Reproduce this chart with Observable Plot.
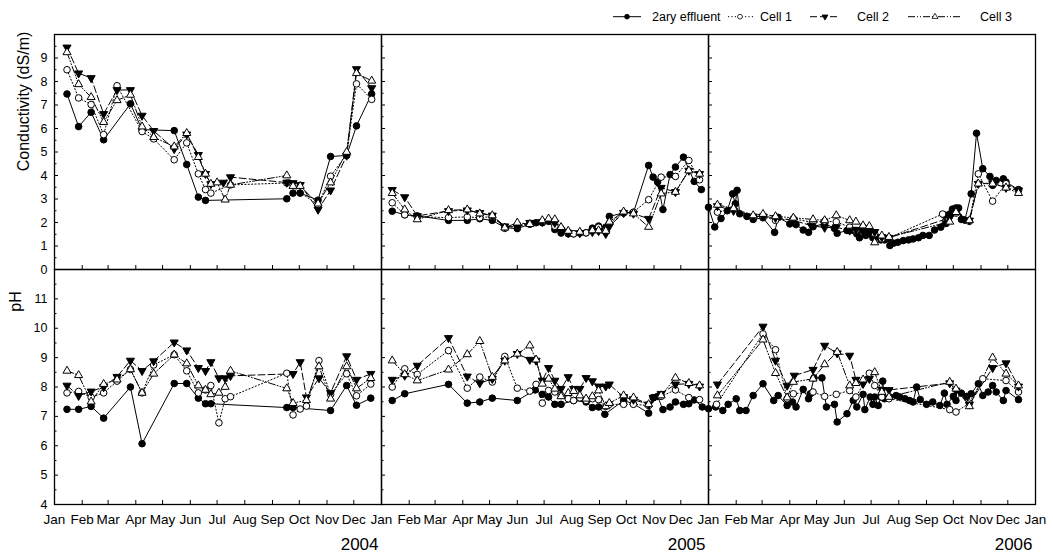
<!DOCTYPE html>
<html><head><meta charset="utf-8">
<script src="https://cdn.jsdelivr.net/npm/d3@7"></script>
<script src="https://cdn.jsdelivr.net/npm/@observablehq/plot@0.6"></script>
<style>
body{margin:0;background:#fff;}
#chart{position:relative;width:1053px;height:554px;font-family:"Liberation Sans",Arial,sans-serif;}
#chart svg{position:absolute;left:0;}
</style></head><body><div id="chart"></div>
<script>
// ---- data: [day of year, value] ----
const years = [2004, 2005, 2006];
const seriesNames = ["2ary effluent", "Cell 1", "Cell 2", "Cell 3"];
const monthLabels = ["Jan","Feb","Mar","Apr","May","Jun","Jul","Aug","Sep","Oct","Nov","Dec"];
const condTicks = [0,1,2,3,4,5,6,7,8,9];
const phTicks = [4,5,6,7,8,9,10,11];

// Conductivity (dS/m)
const cond2004Effluent = [[14,7.47],[27,6.08],[41,6.69],[55,5.52],[85,7.05],[98,5.95],[134,5.91],[148,4.47],[161,3.08],[169,2.94],[260,3.01],[267,3.25],[275,3.25],[295,2.95],[309,4.81],[327,4.85],[338,6.11],[355,7.47]];
const cond2004Cell1 = [[14,8.5],[27,7.3],[41,7.02],[55,5.74],[70,7.82],[98,5.87],[111,5.56],[134,4.67],[148,5.39],[161,4.07],[169,3.4],[175,3.25],[197,3.6],[260,3.68],[295,2.75],[309,3.97],[327,4.9],[338,7.9],[355,7.24]];
const cond2004Cell2 = [[14,9.45],[27,8.35],[41,8.15],[55,6.62],[70,7.64],[85,7.64],[98,6.55],[111,5.9],[134,5.13],[148,5.75],[161,4.88],[169,4.07],[175,3.64],[189,3.7],[197,3.93],[260,3.7],[267,3.68],[275,3.6],[295,2.55],[309,3.37],[327,4.85],[338,8.53],[355,7.72]];
const cond2004Cell3 = [[14,9.24],[27,7.88],[41,7.33],[55,6.27],[70,7.2],[85,7.43],[98,6.08],[111,5.63],[134,5.23],[148,5.8],[161,4.78],[169,4.07],[175,3.64],[182,3.7],[191,2.97],[197,3.6],[260,4.0],[267,3.55],[275,3.55],[295,2.8],[309,3.7],[327,5.0],[338,8.35],[355,8.03]];

const cond2005Effluent = [[12,2.48],[26,2.33],[40,2.28],[75,2.09],[96,2.09],[110,2.16],[124,2.09],[138,1.78],[152,1.74],[166,1.93],[173,1.99],[180,1.99],[187,2.05],[194,1.7],[201,1.55],[209,1.52],[215,1.52],[222,1.55],[229,1.56],[236,1.76],[243,1.85],[251,1.8],[255,2.26],[271,2.41],[282,2.42],[299,4.43],[304,3.93],[309,3.72],[315,2.55],[323,4.04],[329,4.36],[338,4.78],[350,3.75],[358,3.4]];
const cond2005Cell1 = [[12,2.84],[26,2.33],[40,2.24],[75,2.21],[96,2.24],[110,2.2],[124,2.26],[138,1.75],[152,1.87],[166,1.93],[180,2.03],[194,1.84],[201,1.74],[209,1.6],[215,1.52],[229,1.56],[243,1.8],[251,1.66],[255,1.97],[271,2.41],[282,2.44],[299,2.97],[313,3.93],[329,3.96],[344,4.64],[356,3.82]];
const cond2005Cell2 = [[12,3.39],[26,3.08],[40,2.28],[75,2.49],[96,2.52],[110,2.41],[124,2.3],[138,1.84],[152,1.8],[166,1.99],[180,2.03],[194,1.99],[201,1.67],[209,1.55],[222,1.55],[236,1.6],[243,1.64],[251,1.52],[255,1.84],[271,2.41],[282,2.38],[299,2.16],[313,3.48],[329,3.3],[344,4.21],[356,4.07]];
const cond2005Cell3 = [[12,3.25],[26,2.55],[40,2.13],[75,2.52],[96,2.55],[110,2.38],[124,2.3],[138,1.78],[152,1.99],[166,1.93],[180,2.09],[187,2.16],[194,2.13],[201,1.8],[209,1.64],[222,1.6],[236,1.66],[243,1.66],[251,1.64],[255,2.03],[271,2.46],[282,2.38],[299,1.81],[313,3.23],[329,3.3],[344,4.21],[356,4.07]];

const cond2006Effluent = [[0,2.65],[7,1.81],[14,2.17],[21,2.5],[27,3.22],[30,2.8],[32,3.37],[35,2.37],[43,2.26],[50,2.13],[61,2.2],[74,1.58],[78,2.22],[91,1.94],[98,1.91],[106,1.68],[112,1.58],[117,1.82],[130,1.96],[141,1.75],[144,1.54],[155,1.66],[162,1.66],[166,1.52],[169,1.35],[173,1.66],[176,1.45],[181,1.52],[184,1.35],[187,1.4],[193,1.26],[197,1.26],[203,1.02],[207,1.12],[212,1.16],[218,1.23],[224,1.26],[229,1.3],[235,1.35],[240,1.45],[247,1.45],[253,1.68],[260,1.8],[264,2.32],[266,1.96],[270,2.36],[273,2.57],[277,2.62],[280,2.62],[283,2.13],[287,2.1],[294,3.22],[300,5.8],[307,4.29],[315,3.96],[318,3.58],[322,3.79],[330,3.86],[333,3.72],[347,3.4]];
const cond2006Cell1 = [[10,2.44],[28,2.58],[50,2.24],[61,2.26],[75,2.09],[95,2.16],[117,2.0],[130,2.06],[143,2.03],[158,1.8],[165,1.66],[173,1.8],[180,1.66],[186,1.52],[194,1.3],[202,1.35],[262,2.36],[277,2.4],[292,2.05],[302,4.07],[318,2.91],[333,3.65],[347,3.37]];
const cond2006Cell2 = [[10,2.7],[28,2.5],[50,2.26],[61,2.26],[75,2.2],[95,2.09],[115,1.87],[130,1.78],[143,1.8],[158,1.66],[165,1.69],[173,1.66],[180,1.6],[186,1.6],[194,1.38],[202,1.35],[270,2.2],[277,2.5],[292,2.09],[302,3.65],[318,3.68],[333,3.48],[347,3.37]];
const cond2006Cell3 = [[10,2.75],[28,2.6],[50,2.3],[61,2.36],[75,2.26],[95,2.2],[117,2.13],[130,2.09],[143,2.3],[158,2.09],[165,2.03],[173,1.87],[180,1.84],[186,1.15],[194,1.44],[202,1.38],[270,2.03],[277,2.44],[292,2.09],[302,3.65],[318,3.65],[333,3.48],[347,3.25]];

// pH
const ph2004Effluent = [[14,7.24],[27,7.24],[41,7.34],[55,6.94],[85,8.0],[98,6.07],[134,8.12],[148,8.12],[161,7.62],[169,7.43],[175,7.43],[260,7.3],[267,7.3],[309,7.2],[327,8.05],[338,7.38],[354,7.62]];
const ph2004Cell1 = [[14,7.8],[27,7.85],[41,7.65],[55,7.8],[70,8.2],[85,8.6],[98,7.8],[111,8.75],[134,9.1],[148,8.55],[161,7.8],[169,7.9],[175,8.05],[184,6.78],[191,7.6],[197,7.67],[260,8.47],[267,7.05],[275,7.25],[282,7.35],[296,8.9],[309,7.75],[327,8.45],[338,7.7],[354,8.1]];
const ph2004Cell2 = [[14,8.05],[27,7.7],[41,7.85],[55,8.0],[70,8.35],[85,8.9],[98,8.55],[111,8.88],[134,9.52],[148,9.25],[161,8.65],[169,8.55],[175,8.85],[184,8.3],[191,8.3],[197,8.38],[267,8.45],[275,8.85],[282,7.65],[296,8.3],[309,7.8],[327,9.05],[338,8.25],[354,8.45]];
const ph2004Cell3 = [[14,8.55],[27,8.4],[41,7.5],[55,8.1],[70,8.25],[85,8.6],[98,7.8],[111,8.45],[134,9.1],[148,8.8],[161,8.05],[169,7.9],[175,7.75],[184,7.8],[191,8.0],[197,8.55],[260,7.95],[267,7.45],[282,7.55],[296,8.7],[309,7.6],[327,8.7],[338,7.95],[354,8.3]];

const ph2005Effluent = [[12,7.54],[26,7.77],[75,8.09],[96,7.45],[110,7.49],[124,7.62],[152,7.54],[172,7.9],[180,7.75],[187,7.66],[194,7.41],[201,7.41],[215,7.54],[229,7.49],[236,7.3],[243,7.32],[250,7.07],[271,7.54],[282,7.43],[299,7.11],[304,7.64],[309,7.68],[315,7.23],[323,7.32],[329,7.49],[338,7.41],[344,7.43],[350,7.56],[359,7.32]];
const ph2005Cell1 = [[12,8.0],[26,8.62],[40,8.43],[75,9.24],[96,7.96],[110,8.34],[124,8.17],[138,9.04],[152,7.96],[166,7.86],[173,8.09],[180,7.45],[187,7.88],[194,7.83],[201,7.71],[209,7.6],[215,7.54],[222,7.63],[229,7.54],[236,7.6],[243,7.57],[251,7.34],[255,7.41],[271,7.41],[282,7.41],[299,7.37],[313,7.68],[329,7.9],[344,7.64],[356,7.57]];
const ph2005Cell2 = [[12,8.25],[26,8.39],[40,8.73],[75,9.67],[96,8.36],[110,8.13],[124,8.28],[138,8.9],[152,9.13],[166,8.93],[173,8.9],[180,8.22],[187,8.65],[194,8.22],[201,7.94],[209,8.34],[215,7.94],[222,7.94],[229,8.31],[236,8.2],[243,8.02],[251,8.02],[255,8.09],[271,7.66],[282,7.57],[299,7.41],[304,7.64],[313,7.77],[329,8.09],[344,8.11],[356,8.02]];
const ph2005Cell3 = [[12,8.9],[26,8.43],[40,8.22],[75,8.59],[96,9.11],[110,9.56],[124,8.34],[138,8.9],[152,9.13],[166,9.41],[173,8.93],[180,8.11],[187,8.28],[194,7.94],[201,7.68],[209,7.79],[215,7.86],[222,7.71],[229,7.6],[236,7.68],[243,7.88],[251,7.34],[255,7.45],[271,7.71],[282,7.64],[299,7.41],[313,7.71],[329,8.31],[344,8.13],[356,8.05]];

const ph2006Effluent = [[0,7.26],[8,7.32],[16,7.2],[22,7.41],[31,7.6],[35,7.2],[42,7.2],[50,7.71],[61,8.11],[73,7.54],[78,7.71],[88,7.37],[94,7.49],[98,7.32],[106,7.92],[112,7.6],[114,7.77],[118,8.31],[127,8.31],[132,7.32],[141,7.41],[144,6.81],[155,7.09],[162,7.54],[166,7.32],[173,7.75],[175,7.23],[181,7.66],[184,7.41],[186,7.66],[190,7.37],[193,7.66],[195,8.2],[197,7.6],[203,7.66],[210,7.71],[214,7.66],[220,7.6],[225,7.54],[229,7.49],[233,8.0],[237,7.57],[244,7.41],[251,7.49],[259,7.37],[264,7.79],[267,7.41],[274,7.68],[277,7.54],[283,7.79],[289,7.68],[294,7.77],[302,8.11],[307,7.71],[313,7.83],[318,8.05],[322,7.83],[330,7.54],[333,7.88],[347,7.57]];
const ph2006Cell1 = [[9,7.41],[61,9.81],[75,9.27],[88,7.6],[95,7.77],[117,7.83],[130,7.68],[143,7.75],[158,7.88],[165,7.66],[180,8.47],[186,8.05],[194,7.66],[202,7.6],[270,7.23],[277,7.15],[292,7.45],[307,8.28],[333,8.22],[347,7.83]];
const ph2006Cell2 = [[10,8.09],[61,10.06],[75,8.9],[88,8.05],[96,8.39],[117,8.59],[130,9.41],[144,9.15],[158,9.07],[165,8.25],[173,8.11],[180,8.28],[194,7.9],[202,7.9],[270,8.13],[277,7.88],[292,7.41],[318,8.65],[333,8.81],[347,8.02]];
const ph2006Cell3 = [[10,7.71],[61,9.61],[75,8.47],[88,7.64],[95,8.17],[117,8.28],[130,8.77],[144,9.19],[158,8.05],[165,8.13],[173,8.25],[186,8.5],[194,7.83],[202,7.66],[270,8.17],[277,7.94],[292,7.34],[318,9.0],[333,8.45],[347,8.05]];

// ---- assemble tidy rows ----
const toX = day => new Date(Date.UTC(2000, 0, 1) + day * 864e5);
function tidy(tables) {
  const rows = [];
  for (const [year, name, arr] of tables) for (const [day, v] of arr) rows.push({year, series: name, date: toX(day), value: v});
  return rows;
}
const condRows = tidy([
  [2004,"2ary effluent",cond2004Effluent],[2004,"Cell 1",cond2004Cell1],[2004,"Cell 2",cond2004Cell2],[2004,"Cell 3",cond2004Cell3],
  [2005,"2ary effluent",cond2005Effluent],[2005,"Cell 1",cond2005Cell1],[2005,"Cell 2",cond2005Cell2],[2005,"Cell 3",cond2005Cell3],
  [2006,"2ary effluent",cond2006Effluent],[2006,"Cell 1",cond2006Cell1],[2006,"Cell 2",cond2006Cell2],[2006,"Cell 3",cond2006Cell3]
]);
const phRows = tidy([
  [2004,"2ary effluent",ph2004Effluent],[2004,"Cell 1",ph2004Cell1],[2004,"Cell 2",ph2004Cell2],[2004,"Cell 3",ph2004Cell3],
  [2005,"2ary effluent",ph2005Effluent],[2005,"Cell 1",ph2005Cell1],[2005,"Cell 2",ph2005Cell2],[2005,"Cell 3",ph2005Cell3],
  [2006,"2ary effluent",ph2006Effluent],[2006,"Cell 1",ph2006Cell1],[2006,"Cell 2",ph2006Cell2],[2006,"Cell 3",ph2006Cell3]
]);

// ---- styles ----
const st = {
  "2ary effluent": {dash: null, symbol: "circle", fill: "black", rotate: 0, r: 3.3},
  "Cell 1": {dash: "1.2,2.2", symbol: "circle", fill: "white", rotate: 0, r: 3.3},
  "Cell 2": {dash: "7,3", symbol: "triangle", fill: "black", rotate: 180, r: 3.0},
  "Cell 3": {dash: "7,2,1,2,1,2", symbol: "triangle", fill: "white", rotate: 0, r: 3.0}
};
const monthTicks = d3.range(12).map(m => new Date(Date.UTC(2000, m, 1)));
const font = '"Liberation Sans", Arial, sans-serif';

function seriesMarks(rows) {
  const lines = seriesNames.map(s => Plot.line(rows.filter(r => r.series === s),
    {fx: "year", x: "date", y: "value", stroke: "black", strokeWidth: 1, strokeDasharray: st[s].dash}));
  const dots = seriesNames.map(s => Plot.dot(rows.filter(r => r.series === s),
    {fx: "year", x: "date", y: "value", symbol: st[s].symbol, r: st[s].r, fill: st[s].fill, stroke: "black", strokeWidth: 1, rotate: st[s].rotate}));
  return [...lines, ...dots];
}

function panelAxes(ticks) {
  const halves = ticks.map(t => t + 0.5);
  return [
    Plot.axisY({ticks, tickSize: -4, fill: "none", facetAnchor: null, label: null}),
    Plot.axisY({ticks: halves, tickSize: -2.5, fill: "none", facetAnchor: null, label: null}),
    Plot.axisY({ticks, tickSize: 0, tickPadding: 7, label: null, fontSize: 12.5}),
    Plot.axisX({ticks: monthTicks, tickSize: -4, fill: "none", facetAnchor: null, label: null})
  ];
}

const common = {
  width: 1053, marginLeft: 54, marginRight: 18,
  style: {fontFamily: font, background: "transparent", overflow: "visible", color: "black"},
  fx: {domain: years, padding: 0, axis: null},
  x: {type: "utc", domain: [toX(0), toX(366)], axis: null}
};

const topPlot = Plot.plot({
  ...common, height: 270, marginTop: 34, marginBottom: 1,
  y: {domain: [0, 10], axis: null},
  marks: [
    ...panelAxes(condTicks),
    ...seriesMarks(condRows),
    Plot.frame({stroke: "black", strokeWidth: 1.3}),
    Plot.text(["Conductivity (dS/m)"], {fx: () => 2004, frameAnchor: "top-left", textAnchor: "middle", lineAnchor: "middle", rotate: -90, dx: -30.5, dy: 67, fontSize: 16, text: d => d})
  ]
});

const bottomPlot = Plot.plot({
  ...common, height: 286, marginTop: 1, marginBottom: 50,
  y: {domain: [4, 12], axis: null},
  marks: [
    ...panelAxes(phTicks),
    Plot.axisX({ticks: monthTicks, tickSize: 0, tickPadding: 10, tickFormat: d3.utcFormat("%b"), label: null, facetAnchor: null, fontSize: 13.5}),
    Plot.text(["Jan"], {fx: () => 2006, x: () => toX(366), frameAnchor: "bottom", lineAnchor: "top", dy: 10, fontSize: 13.5, text: d => d}),
    ...seriesMarks(phRows),
    Plot.frame({stroke: "black", strokeWidth: 1.3}),
    Plot.text(years, {fx: d => d, frameAnchor: "bottom-right", textAnchor: "end", lineAnchor: "middle", dx: -3, dy: 40.5, fontSize: 17, text: d => String(d)}),
    Plot.text(["pH"], {fx: () => 2004, frameAnchor: "top-left", textAnchor: "middle", lineAnchor: "middle", rotate: -90, dx: -38.5, dy: 32, fontSize: 16, text: d => d})
  ]
});

const chart = document.getElementById("chart");
bottomPlot.style.top = "268px";
topPlot.style.top = "0px";
chart.append(bottomPlot, topPlot);

// ---- legend ----
const legendItems = [
  {name: "2ary effluent", x0: 613, x1: 641, m: 627, label: 652},
  {name: "Cell 1", x0: 728, x1: 753, m: 740, label: 760},
  {name: "Cell 2", x0: 810, x1: 840, m: 825, label: 857},
  {name: "Cell 3", x0: 908, x1: 962, m: 935, label: 980}
];
const lg = d3.select(chart).append("svg")
  .attr("width", 1053).attr("height", 30).style("top", "0px").style("position", "absolute")
  .style("font-family", font);
const ly = 16.7;
for (const it of legendItems) {
  const s = st[it.name];
  lg.append("line").attr("x1", it.x0).attr("x2", it.x1).attr("y1", ly).attr("y2", ly)
    .attr("stroke", "black").attr("stroke-width", 1).attr("stroke-dasharray", s.dash);
  const sym = d3.symbol(s.symbol === "circle" ? d3.symbolCircle : d3.symbolTriangle, s.symbol === "circle" ? Math.PI * 2.4 * 2.4 : Math.PI * 2.2 * 2.2);
  lg.append("path").attr("d", sym()).attr("transform", `translate(${it.m},${ly}) rotate(${s.rotate})`)
    .attr("fill", s.fill).attr("stroke", "black").attr("stroke-width", 0.8);
  lg.append("text").attr("x", it.label).attr("y", ly).attr("dy", "0.35em").attr("font-size", 12.5).text(it.name);
}
</script></body></html>
